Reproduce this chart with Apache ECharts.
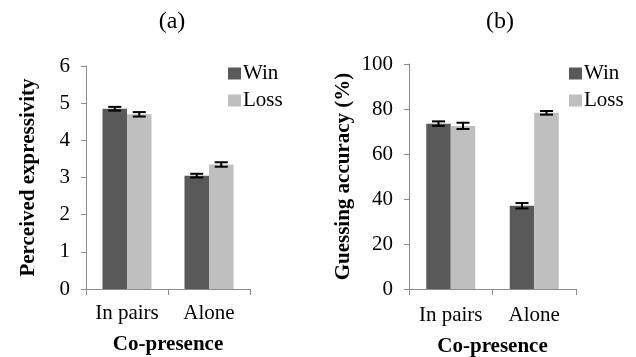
<!DOCTYPE html>
<html><head><meta charset="utf-8">
<script src="https://cdn.jsdelivr.net/npm/echarts@6/dist/echarts.min.js"></script>
<style>html,body{margin:0;padding:0;background:#fff}#c{width:636px;height:357px}</style>
</head><body><div id="c"></div>
<script>
var categories = ['In pairs', 'Alone'];
var seriesNames = ['Win', 'Loss'];
// Panel (a): Perceived expressivity
var expWin = [4.85, 3.05];
var expLoss = [4.70, 3.35];
var expWinErr = [0.05, 0.05];
var expLossErr = [0.06, 0.06];
var expTicks = [0, 1, 2, 3, 4, 5, 6];
// Panel (b): Guessing accuracy (%)
var accWin = [73.5, 37];
var accLoss = [72.5, 78.3];
var accWinErr = [1.0, 1.2];
var accLossErr = [1.4, 0.8];
var accTicks = [0, 20, 40, 60, 80, 100];

var FONT = '"Liberation Serif", "Times New Roman", serif';
var winColor = '#595959', lossColor = '#bfbfbf', axisColor = '#8c8c8c';
var BW = 24.5;

function errSeries(name, xi, yi, vals, errs, side) {
  return {
    type: 'custom', name: name + ' err', xAxisIndex: xi, yAxisIndex: yi, z: 10,
    silent: true,
    data: vals.map(function (v, i) { return [i, v, errs[i]]; }),
    renderItem: function (params, api) {
      var c = api.value(0), v = api.value(1), e = api.value(2);
      var top = api.coord([c, v + e]);
      var bot = api.coord([c, v - e]);
      var x = top[0] + side * BW / 2;
      var hw = 6.5;
      var st = { stroke: '#000', lineWidth: 2 };
      return { type: 'group', children: [
        { type: 'line', shape: { x1: x, y1: top[1], x2: x, y2: bot[1] }, style: st },
        { type: 'line', shape: { x1: x - hw, y1: top[1], x2: x + hw, y2: top[1] }, style: st },
        { type: 'line', shape: { x1: x - hw, y1: bot[1], x2: x + hw, y2: bot[1] }, style: st }
      ]};
    }
  };
}

function xAx(gi, gap, margin) {
  return {
    type: 'category', gridIndex: gi, data: categories,
    axisLine: { lineStyle: { color: axisColor, width: 1 } },
    axisTick: { show: true, length: 6, lineStyle: { color: axisColor } },
    axisLabel: { color: '#000', fontFamily: FONT, fontSize: 21, margin: margin, interval: 0, hideOverlap: false },
    name: 'Co-presence', nameLocation: 'middle', nameGap: gap,
    nameTextStyle: { color: '#000', fontFamily: FONT, fontSize: 21, fontWeight: 'bold' }
  };
}
function yAx(gi, ticks, name, gap) {
  return {
    type: 'value', gridIndex: gi, min: ticks[0], max: ticks[ticks.length - 1],
    interval: ticks[1] - ticks[0],
    axisLine: { show: true, lineStyle: { color: axisColor, width: 1 } },
    axisTick: { show: true, length: 5, lineStyle: { color: axisColor } },
    splitLine: { show: false },
    axisLabel: { color: '#000', fontFamily: FONT, fontSize: 21, margin: 16 },
    name: name, nameLocation: 'middle', nameGap: gap, nameRotate: 90,
    nameTextStyle: { color: '#000', fontFamily: FONT, fontSize: 21, fontWeight: 'bold' }
  };
}
function bar(name, xi, yi, vals, color) {
  return { type: 'bar', name: name, xAxisIndex: xi, yAxisIndex: yi, data: vals,
    barWidth: BW, barGap: '0%', itemStyle: { color: color } };
}
function legend(left) {
  return { data: seriesNames, orient: 'vertical', left: left, top: 58, padding: 5,
    itemWidth: 13, itemHeight: 12, itemGap: 6, icon: 'rect',
    textStyle: { fontFamily: FONT, fontSize: 21, color: '#000', padding: [0, 0, 0, -3] } };
}

var chart = echarts.init(document.getElementById('c'), null, { renderer: 'canvas' });
chart.setOption({
  animation: false,
  backgroundColor: '#fff',
  title: [
    { text: '(a)', left: 172, top: 10, padding: 0, textAlign: 'center',
      textStyle: { fontFamily: FONT, fontSize: 24, fontWeight: 'normal', color: '#000' } },
    { text: '(b)', left: 500, top: 10, padding: 0, textAlign: 'center',
      textStyle: { fontFamily: FONT, fontSize: 24, fontWeight: 'normal', color: '#000' } }
  ],
  legend: [legend(223), legend(564)],
  grid: [
    { left: 86, width: 164, top: 66, bottom: 68, containLabel: false, outerBoundsMode: 'none' },
    { left: 409, width: 167, top: 64, bottom: 68, containLabel: false, outerBoundsMode: 'none' }
  ],
  xAxis: [xAx(0, 45, 14), xAx(1, 47, 16)],
  yAxis: [yAx(0, expTicks, 'Perceived expressivity', 47), yAx(1, accTicks, 'Guessing accuracy (%)', 55)],
  series: [
    bar('Win', 0, 0, expWin, winColor),
    bar('Loss', 0, 0, expLoss, lossColor),
    bar('Win', 1, 1, accWin, winColor),
    bar('Loss', 1, 1, accLoss, lossColor),
    errSeries('Win', 0, 0, expWin, expWinErr, -1),
    errSeries('Loss', 0, 0, expLoss, expLossErr, 1),
    errSeries('Win', 1, 1, accWin, accWinErr, -1),
    errSeries('Loss', 1, 1, accLoss, accLossErr, 1)
  ]
});
</script></body></html>
